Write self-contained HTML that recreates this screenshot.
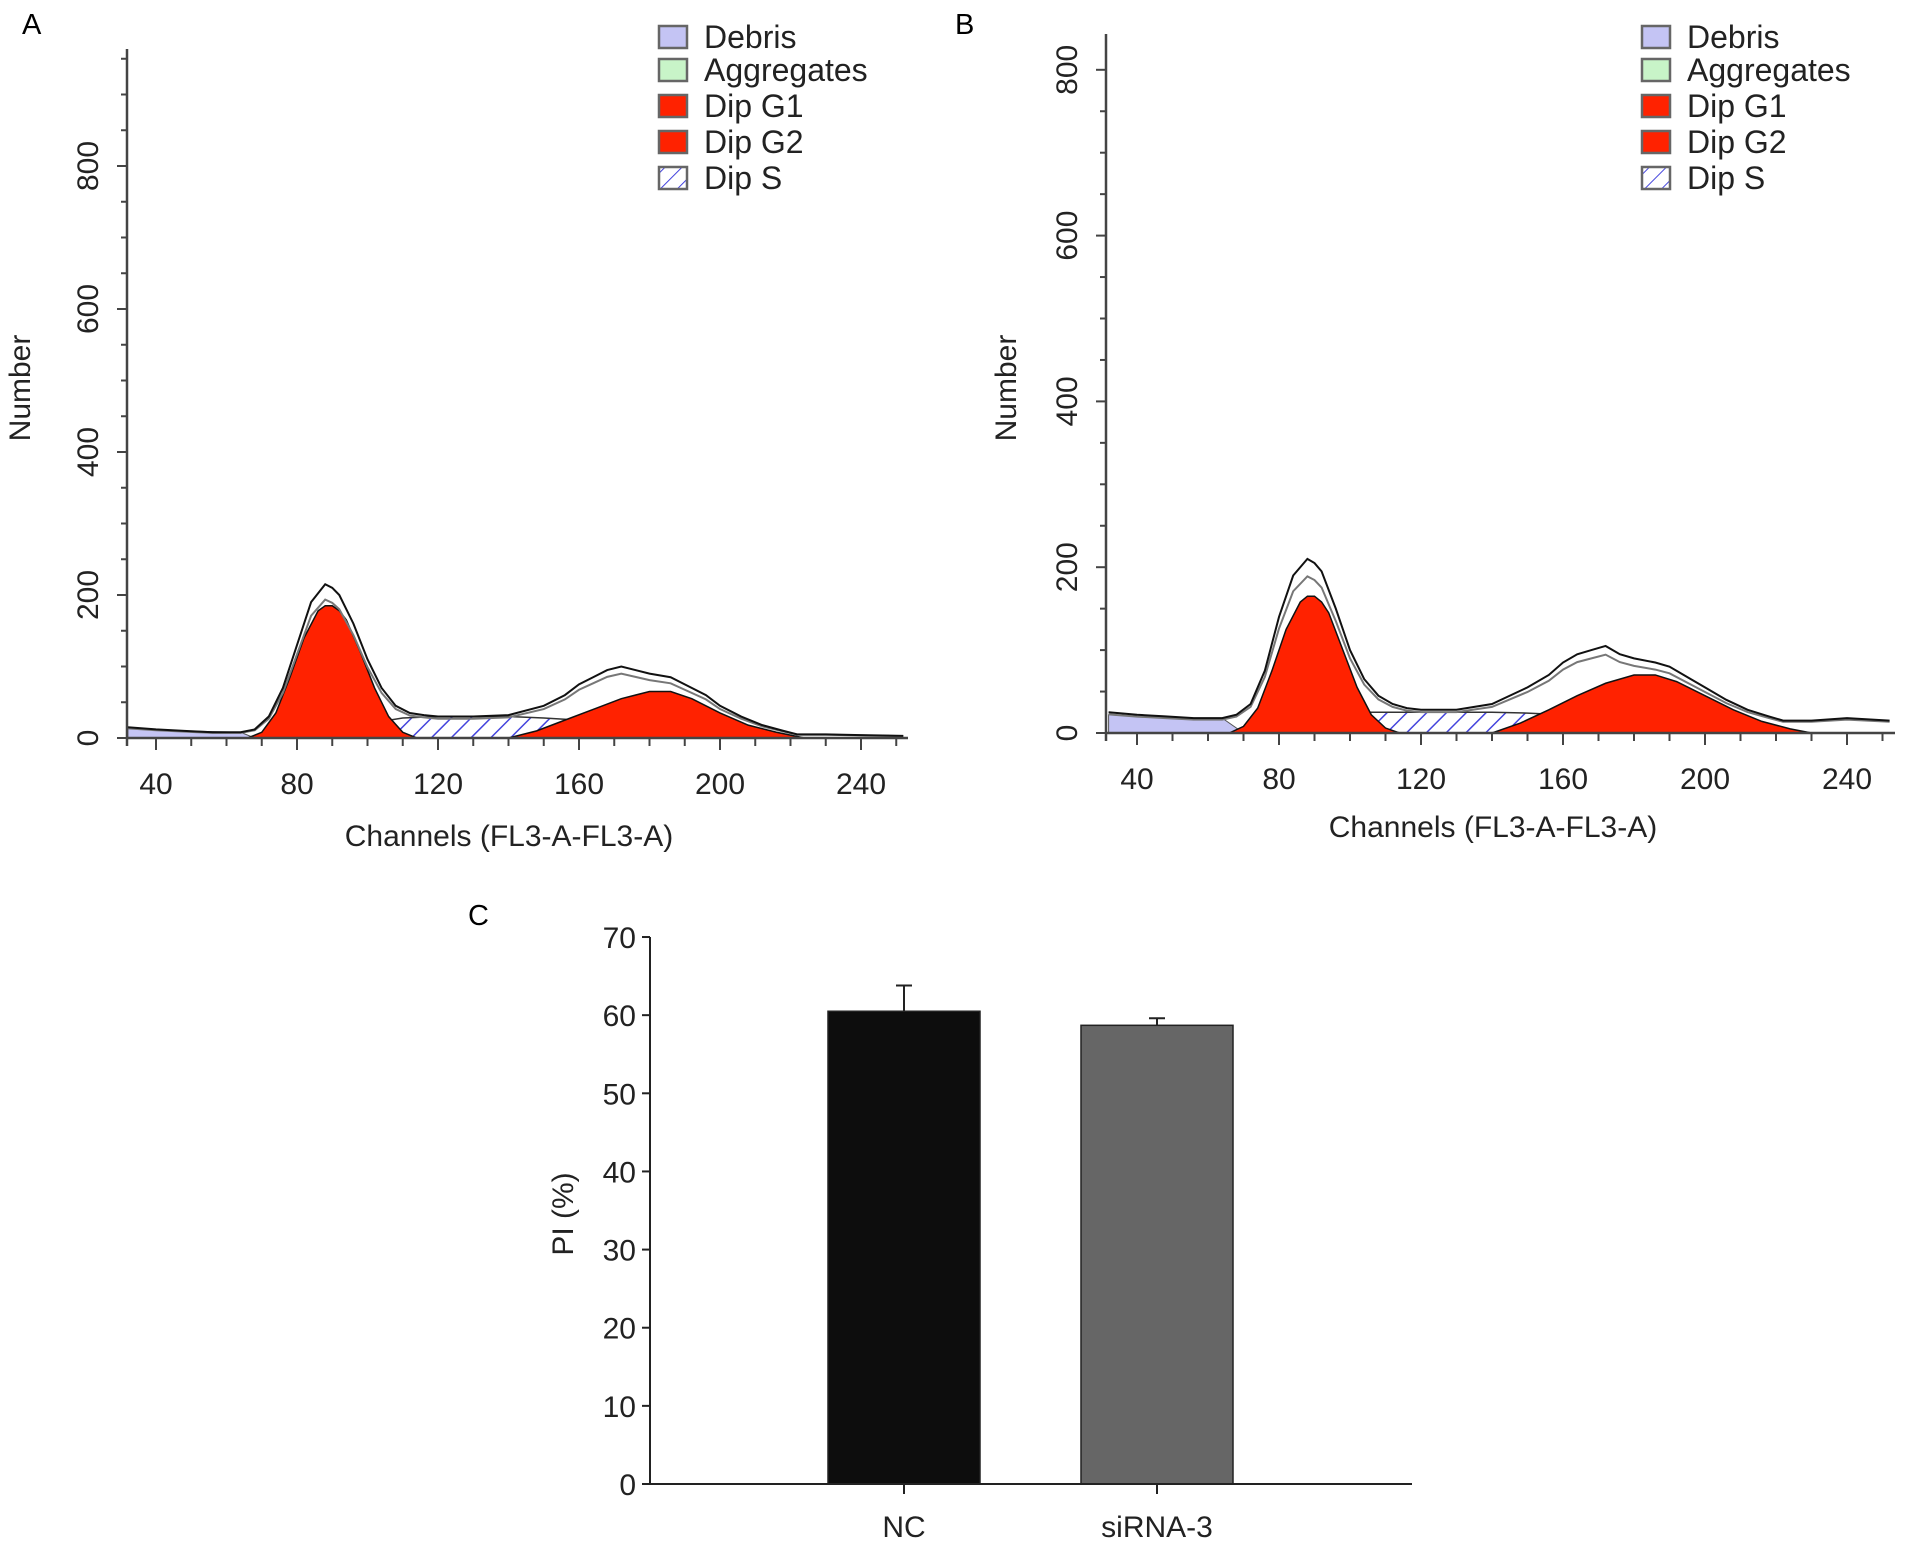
<!DOCTYPE html>
<html><head><meta charset="utf-8"><style>
body{margin:0;background:#fff;}
svg{display:block;font-family:"Liberation Sans",Arial,sans-serif;}
</style></head><body>
<svg id="fig" width="1913" height="1548" viewBox="0 0 1913 1548">
<defs>
<pattern id="hatchS" patternUnits="userSpaceOnUse" width="14" height="14" patternTransform="rotate(45)">
<rect width="14" height="14" fill="#fff"/><line x1="0" y1="0" x2="0" y2="14" stroke="#4444dd" stroke-width="3"/></pattern>
<pattern id="hatchL" patternUnits="userSpaceOnUse" width="12" height="12" patternTransform="rotate(45)">
<rect width="12" height="12" fill="#fff"/><line x1="0" y1="0" x2="0" y2="12" stroke="#4444dd" stroke-width="2"/></pattern>
</defs>
<text x="22" y="34" font-size="29">A</text>
<text x="955" y="34" font-size="29">B</text>
<text x="468" y="925" font-size="29">C</text>
<g id="pa"></g>
<g id="pb"></g>
<g id="pc"></g>
</svg>
<script>
// Panel A data
const aCh    = [32,40,48,56,64,68,72,76,80,84,88,90,92,96,100,104,108,112,116,120,130,140,150,156,160,164,168,172,176,180,186,190,196,200,206,212,218,222,230,240,252];
const aCount = [15,12,10,8,8,12,30,70,130,190,215,210,200,160,110,70,45,35,32,30,30,32,45,60,75,85,95,100,95,90,85,75,60,45,30,18,10,5,5,4,3];
const aG1Ch  = [66,70,74,78,82,86,88,90,92,94,98,102,106,110,114];
const aG1    = [0,8,35,85,140,178,185,185,178,165,120,70,30,8,0];
const aG2Ch  = [140,148,156,164,172,180,186,192,200,208,216,224];
const aG2    = [0,10,25,40,55,65,65,55,35,18,8,0];
const aSCh   = [80,90,100,110,120,130,140,150,160,170,180,190,205];
const aS     = [0,10,20,28,30,30,30,28,25,20,14,8,0];
const aDebCh = [32,40,48,56,64,68];
const aDeb   = [14,12,10,9,8,0];
// Panel B data
const bCh    = [32,40,48,56,64,68,72,76,80,84,88,90,92,96,100,104,108,112,116,120,130,140,150,156,160,164,168,172,176,180,186,190,196,200,206,212,218,222,230,240,252];
const bCount = [25,22,20,18,18,22,35,75,140,190,210,205,195,150,100,65,45,35,30,28,28,35,55,70,85,95,100,105,95,90,85,80,65,55,40,28,20,15,15,18,15];
const bG1Ch  = [66,70,74,78,82,86,88,90,92,94,98,102,106,110,114];
const bG1    = [0,8,30,75,125,158,165,165,158,145,100,55,22,6,0];
const bG2Ch  = [140,148,156,164,172,180,186,192,200,208,216,224,230];
const bG2    = [0,12,28,45,60,70,70,62,45,28,14,5,0];
const bSCh   = [70,80,90,100,110,120,130,140,150,160,170,180,190,205];
const bS     = [0,15,22,25,25,25,25,25,24,22,18,12,6,0];
const bDebCh = [32,40,48,56,64,70];
const bDeb   = [22,20,19,18,18,0];
// Panel C data
const cCats  = ["NC","siRNA-3"];
const cVals  = [60.5,58.7];
const cErr   = [3.3,0.9];
const cTicks = [0,10,20,30,40,50,60,70];
const histXTicks = [40,80,120,160,200,240];
const histYTicks = [0,200,400,600,800];

const NS="http://www.w3.org/2000/svg";
function mk(parent,tag,attrs,text){const e=document.createElementNS(NS,tag);for(const k in attrs)e.setAttribute(k,attrs[k]);if(text!==undefined)e.textContent=text;parent.appendChild(e);return e;}

function hist(g,cfg,ch,cnt,g1c,g1,g2c,g2,sc,s,dc,d){
  const X=v=>cfg.x0+(v-40)*cfg.kx, Y=v=>cfg.y0-v*cfg.ky;
  const area=(cs,vs)=>{let p="M"+X(cs[0])+","+Y(0);cs.forEach((c,i)=>p+=" L"+X(c)+","+Y(vs[i]));return p+" L"+X(cs[cs.length-1])+","+Y(0)+"Z";};
  const line=(cs,vs)=>cs.map((c,i)=>(i?"L":"M")+X(c)+","+Y(vs[i])).join(" ");
  let e;
  e=mk(g,"path",{d:area(dc,d),fill:"#c4c4f4",stroke:"#555","stroke-width":1});
  
  
  e=mk(g,"path",{d:area(sc,s),fill:"url(#hatchS)",stroke:"#333","stroke-width":1.5});
  
  
  e=mk(g,"path",{d:area(g1c,g1),fill:"#ff2200",stroke:"#111","stroke-width":1.5});
  
  
  e=mk(g,"path",{d:area(g2c,g2),fill:"#ff2200",stroke:"#111","stroke-width":1.5});
  
  
  e=mk(g,"path",{d:line(ch,cnt.map(v=>v*0.9)),fill:"none",stroke:"#777","stroke-width":2});
  
  
  e=mk(g,"path",{d:line(ch,cnt),fill:"none",stroke:"#111","stroke-width":2});
  
  
  e=mk(g,"line",{x1:cfg.ax,y1:cfg.top,x2:cfg.ax,y2:cfg.y0+8,stroke:"#444","stroke-width":2.5});
  
  
  e=mk(g,"line",{x1:cfg.ax,y1:cfg.y0,x2:cfg.right,y2:cfg.y0,stroke:"#444","stroke-width":2.5});
  
  
  for(let v=0;cfg.y0-v*cfg.ky>=cfg.top;v+=50){
    const major=v%200===0;
    mk(g,"line",{x1:cfg.ax-(major?10:6),y1:Y(v),x2:cfg.ax,y2:Y(v),stroke:"#444","stroke-width":2});
  }
  for(let v=30;X(v)<=cfg.right;v+=10){
    if(X(v)<cfg.ax)continue;
    const major=v%40===0;
    mk(g,"line",{x1:X(v),y1:cfg.y0,x2:X(v),y2:cfg.y0+(major?12:8),stroke:"#444","stroke-width":2});
  }
  histXTicks.forEach(v=>{e=mk(g,"text",{x:X(v),y:cfg.y0+56,"font-size":30,"text-anchor":"middle",fill:"#222"},v);
    
    });
  histYTicks.forEach(v=>{const tx=cfg.ax-29,ty=Y(v);e=mk(g,"text",{x:tx,y:ty,"font-size":30,"text-anchor":"middle",fill:"#222",transform:`rotate(-90 ${tx} ${ty})`},v);
    
    });
  e=mk(g,"text",{x:cfg.ytx,y:388,"font-size":30,"text-anchor":"middle",fill:"#222",transform:`rotate(-90 ${cfg.ytx} 388)`},"Number");
  
  
  e=mk(g,"text",{x:cfg.xtx,y:cfg.xty,"font-size":30,"text-anchor":"middle",fill:"#222"},"Channels (FL3-A-FL3-A)");
  
  
  const leg=[["Debris","#c4c4f4"],["Aggregates","#c8f4c8"],["Dip G1","#ff2200"],["Dip G2","#ff2200"],["Dip S","url(#hatchL)"]];
  const rows=[37,70,106,142,178];
  leg.forEach((L,i)=>{
    const r=mk(g,"rect",{x:cfg.lx,y:rows[i]-11,width:28,height:22,fill:L[1],stroke:"#666","stroke-width":2.5});
    
    
    const t=mk(g,"text",{x:cfg.lx+45,y:rows[i]+11,"font-size":32,fill:"#222"},L[0]);
    
    
  });
}
hist(document.getElementById("pa"),{x0:156,kx:3.525,y0:738,ky:0.715,ax:127,top:49,right:908,ytx:30,xtx:509,xty:846,lx:659},
  aCh,aCount,aG1Ch,aG1,aG2Ch,aG2,aSCh,aS,aDebCh,aDeb);
hist(document.getElementById("pb"),{x0:1137,kx:3.55,y0:733,ky:0.829,ax:1106,top:34,right:1895,ytx:1016,xtx:1493,xty:837,lx:1642},
  bCh,bCount,bG1Ch,bG1,bG2Ch,bG2,bSCh,bS,bDebCh,bDeb);

(function(){
  const g=document.getElementById("pc");
  const y0=1484,k=7.814,ax=650,right=1412;
  const Y=v=>y0-v*k;
  const centers=[904,1157],bw=152,fills=["#0d0d0d","#666"];
  let e;
  cVals.forEach((v,i)=>{
    e=mk(g,"rect",{x:centers[i]-bw/2,y:Y(v),width:bw,height:y0-Y(v),fill:fills[i],stroke:"#222","stroke-width":1.5});
    
    
    e=mk(g,"path",{d:`M${centers[i]},${Y(v)} L${centers[i]},${Y(v+cErr[i])} M${centers[i]-8},${Y(v+cErr[i])} L${centers[i]+8},${Y(v+cErr[i])}`,stroke:"#222","stroke-width":2,fill:"none"});
    
    
    mk(g,"line",{x1:centers[i],y1:y0,x2:centers[i],y2:y0+10,stroke:"#222","stroke-width":2});
    e=mk(g,"text",{x:centers[i],y:1537,"font-size":30,"text-anchor":"middle",fill:"#222"},cCats[i]);
    
    
  });
  e=mk(g,"line",{x1:ax,y1:Y(70),x2:ax,y2:y0,stroke:"#222","stroke-width":2});
  
  
  e=mk(g,"line",{x1:ax,y1:y0,x2:right,y2:y0,stroke:"#222","stroke-width":2});
  
  
  cTicks.forEach(v=>{
    mk(g,"line",{x1:ax-8,y1:Y(v),x2:ax,y2:Y(v),stroke:"#222","stroke-width":2});
    e=mk(g,"text",{x:ax-14,y:Y(v)+11,"font-size":30,"text-anchor":"end",fill:"#222"},v);
    
    
  });
  e=mk(g,"text",{x:573,y:1214,"font-size":30,"text-anchor":"middle",fill:"#222",transform:"rotate(-90 573 1214)"},"PI (%)");
  
  
})();
</script>
</body></html>
